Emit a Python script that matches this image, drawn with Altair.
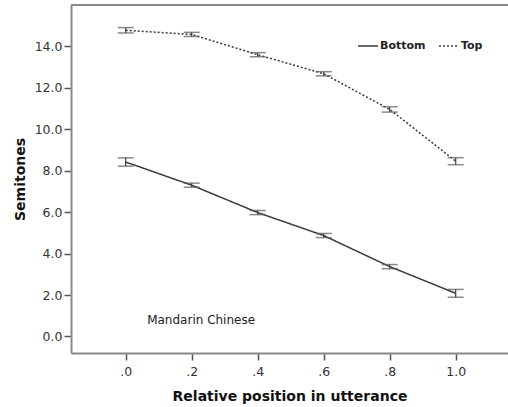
import altair as alt
import pandas as pd

# Relative position in the utterance (x) and mean pitch in semitones per register line
positions = [0.0, 0.2, 0.4, 0.6, 0.8, 1.0]
top_mean = [14.78, 14.58, 13.60, 12.68, 10.96, 8.46]
top_err = [0.13, 0.10, 0.10, 0.10, 0.13, 0.17]
bottom_mean = [8.42, 7.30, 5.98, 4.87, 3.37, 2.08]
bottom_err = [0.20, 0.10, 0.10, 0.10, 0.10, 0.19]
series_names = ["Bottom", "Top"]

x_ticks = [0.0, 0.2, 0.4, 0.6, 0.8, 1.0]
y_ticks = [0, 2, 4, 6, 8, 10, 12, 14]
x_domain = [-0.1658, 1.1585]
y_domain = [-0.8, 16.0]

rows = []
for name, means, errs in [("Bottom", bottom_mean, bottom_err), ("Top", top_mean, top_err)]:
    for p, m, e in zip(positions, means, errs):
        rows.append({"pos": p, "val": m, "lo": m - e, "hi": m + e, "series": name})
df = pd.DataFrame(rows)

FONT = "DejaVu Sans"
DARK = "#3a3a3a"

x_enc = alt.X(
    "pos:Q",
    scale=alt.Scale(domain=x_domain, nice=False, zero=False),
    axis=alt.Axis(
        values=x_ticks,
        labelExpr="datum.value < 0.99 ? slice(format(datum.value, '.1f'), 1) : format(datum.value, '.1f')",
        title="Relative position in utterance",
        grid=False,
        tickSize=7,
        labelPadding=5,
        titlePadding=12,
    ),
)
y_scale = alt.Scale(domain=y_domain, nice=False, zero=False)
y_enc = alt.Y(
    "val:Q",
    scale=y_scale,
    axis=alt.Axis(
        values=y_ticks,
        format=".1f",
        title="Semitones",
        grid=False,
        tickSize=7,
        labelPadding=2,
        titlePadding=7,
    ),
)

base = alt.Chart(df)

lines = base.mark_line(color=DARK, strokeWidth=1.5).encode(
    x=x_enc,
    y=y_enc,
    strokeDash=alt.StrokeDash(
        "series:N",
        scale=alt.Scale(domain=series_names, range=[[1, 0], [2, 2]]),
        legend=alt.Legend(
            title=None,
            orient="none",
            legendX=286,
            legendY=30,
            direction="horizontal",
            symbolType="stroke",
            symbolSize=400,
            symbolStrokeColor=DARK,
            symbolStrokeWidth=1.5,
            labelFont=FONT,
            labelFontSize=11,
            labelFontWeight="bold",
            labelColor="#222",
            labelOffset=1,
            columnPadding=10,
        ),
    ),
    detail="series:N",
)

bars = base.mark_rule(color=DARK, strokeWidth=1.2).encode(
    x="pos:Q", y=alt.Y("lo:Q", scale=y_scale), y2="hi:Q"
)
caps_lo = base.mark_tick(orient="horizontal", size=16, thickness=1.5, color="#555").encode(
    x="pos:Q", y=alt.Y("lo:Q", scale=y_scale)
)
caps_hi = base.mark_tick(orient="horizontal", size=16, thickness=1.5, color="#555").encode(
    x="pos:Q", y=alt.Y("hi:Q", scale=y_scale)
)

# top edge of the frame
frame_top = alt.Chart(pd.DataFrame({"v": [y_domain[1]]})).mark_rule(
    color="#8a8a8a", strokeWidth=2
).encode(y=alt.Y("v:Q", scale=y_scale))

note = alt.Chart(pd.DataFrame({"pos": [0.065], "val": [0.8], "t": ["Mandarin Chinese"]})).mark_text(
    align="left", baseline="middle", font=FONT, fontSize=12, color="#222"
).encode(x="pos:Q", y=alt.Y("val:Q", scale=y_scale), text="t:N")

chart = (
    alt.layer(frame_top, lines, bars, caps_lo, caps_hi, note)
    .properties(
        width=437,
        height=348,
        padding={"left": 71, "top": 5, "right": 0, "bottom": 54},
        autosize=alt.AutoSizeParams(type="none"),
    )
    .configure_view(stroke=None)
    .configure_axis(
        domainColor="#8a8a8a",
        domainWidth=2,
        tickColor="#555",
        tickWidth=1.5,
        labelFont=FONT,
        labelFontSize=12.5,
        labelColor="#333",
        titleFont=FONT,
        titleFontSize=14,
        titleFontWeight="bold",
        titleColor="#111",
    )
)

chart.save("out.html", embed_options={"renderer": "svg", "actions": False})
